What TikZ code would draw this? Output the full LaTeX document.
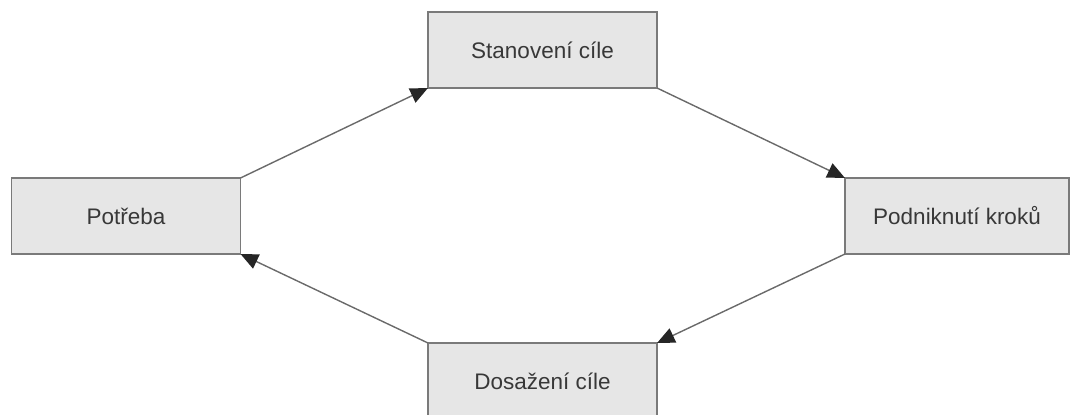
\documentclass[tikz,border=0pt]{standalone}
\usepackage{fontspec}
\setmainfont{Liberation Sans}
\usetikzlibrary{arrows.meta}
\definecolor{boxfill}{HTML}{E6E6E6}
\definecolor{boxline}{HTML}{7A7A7A}
\definecolor{txtgray}{HTML}{383838}
\definecolor{arrgray}{HTML}{6A6A6A}

\begin{document}
\begin{tikzpicture}[x=0.025cm, y=-0.025cm,
  stage/.style={draw=boxline, line width=1pt, fill=boxfill, text=txtgray,
    minimum width=5.725cm, minimum height=1.9cm, inner sep=0pt, outer sep=0pt,
    font=\fontsize{16}{19}\selectfont},
  flow/.style={draw=arrgray, line width=1pt,
    -{Triangle[length=12.5pt, width=11pt, color=black!85]}}]
  % Rámec obrázku
  \useasboundingbox (0,0) rectangle (1071,414);
  \clip (0,0) rectangle (1071,414);
  % Bloky cyklu
  \node[stage] (cil) at (542.5,50) {Stanovení cíle};
  \node[stage] (potreba) at (126,216) {Potřeba};
  \node[stage, minimum width=5.6cm] (kroky) at (957,216) {Podniknutí kroků};
  \node[stage] (dosazeni) at (542.5,381) {Dosažení cíle};
  % Šipky
  \draw[flow] (potreba.north east) -- (cil.south west);
  \draw[flow] (cil.south east) -- (kroky.north west);
  \draw[flow] (kroky.south west) -- (dosazeni.north east);
  \draw[flow] (dosazeni.north west) -- (potreba.south east);
\end{tikzpicture}
\end{document}
